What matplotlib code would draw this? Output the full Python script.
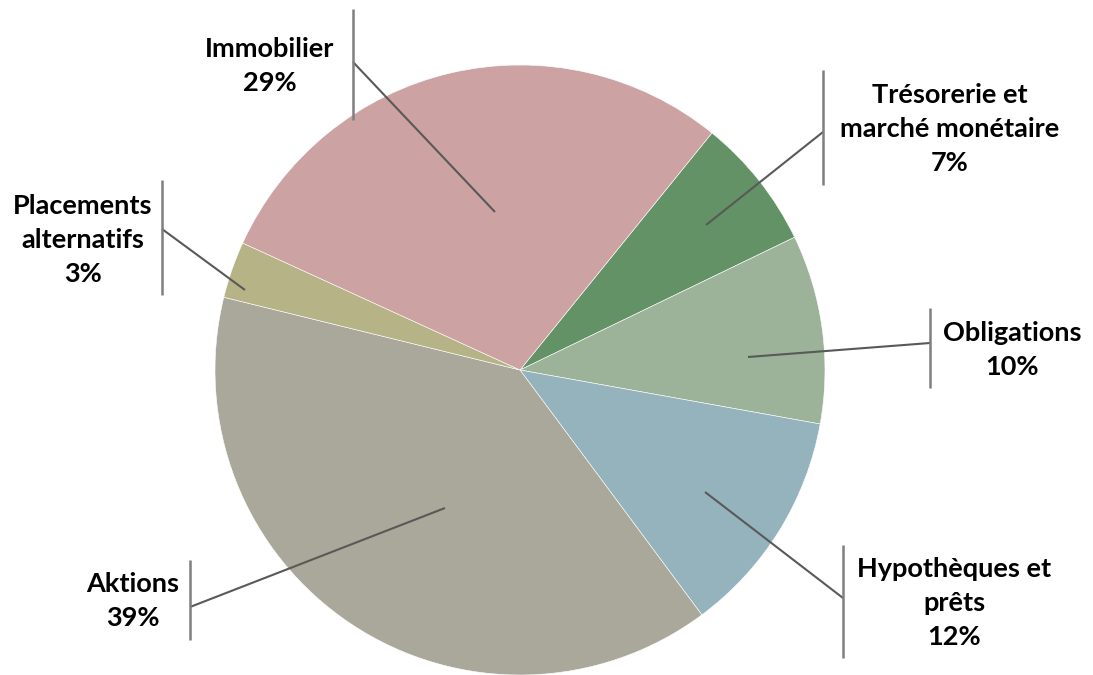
import numpy as np
import matplotlib
matplotlib.use("Agg")
from matplotlib import pyplot as plt

# data (clockwise from the top-right slice)
labels = ["Trésorerie et\nmarché monétaire", "Obligations", "Hypothèques et\nprêts",
          "Aktions", "Placements\nalternatifs", "Immobilier"]
values = [7, 10, 12, 39, 3, 29]
colors = ["#639266", "#9cb39a", "#95b3bd", "#a9a89a", "#b6b487", "#cca2a3"]

# layout in pixels (x, y from top-left)
W, H = 1093, 675
cx, cy, R = 520, 370, 305
text_pos = [(950, 129), (1012, 350), (954, 603), (133, 601), (83, 240), (270, 66)]
bar_x = [823, 930, 843, 190, 162, 353]
bar_y = [(70, 185), (308, 388), (545, 658), (560, 640), (180, 295), (9, 120)]
join_y = [132, 343, 598, 607, 229, 62]
anchors = [(706, 225), (748, 357), (705, 492), (445, 508), (245, 290), (495, 212)]

def px(x, y):
    return (x - cx) / R, (cy - y) / R

fig = plt.figure(figsize=(W / 100, H / 100), dpi=100)
ax = fig.add_axes([0, 0, 1, 1])

wedges, _ = ax.pie(values, colors=colors, startangle=51, counterclock=False,
                   radius=1, center=(0, 0), frame=True,
                   wedgeprops=dict(edgecolor="white", linewidth=0.4))
ax.set_xlim(-cx / R, (W - cx) / R)
ax.set_ylim((cy - H) / R, cy / R)
ax.set_aspect("equal")
ax.axis("off")

for i, w in enumerate(wedges):
    a = px(*anchors[i])
    b = px(bar_x[i], join_y[i])
    ax.plot([a[0], b[0]], [a[1], b[1]], color="#595959", lw=1.5, solid_capstyle="butt")
    x0, y0 = px(bar_x[i], bar_y[i][0])
    x1, y1 = px(bar_x[i], bar_y[i][1])
    ax.plot([x0, x1], [y0, y1], color="#7f7f7f", lw=1.8, solid_capstyle="butt")
    tx, ty = px(*text_pos[i])
    ax.text(tx, ty, labels[i] + "\n" + f"{values[i]}%", ha="center", va="center",
            fontsize=19.5, fontweight="bold", family="Lato", linespacing=1.52,
            color="black")

fig.savefig("out.png", dpi=100)
